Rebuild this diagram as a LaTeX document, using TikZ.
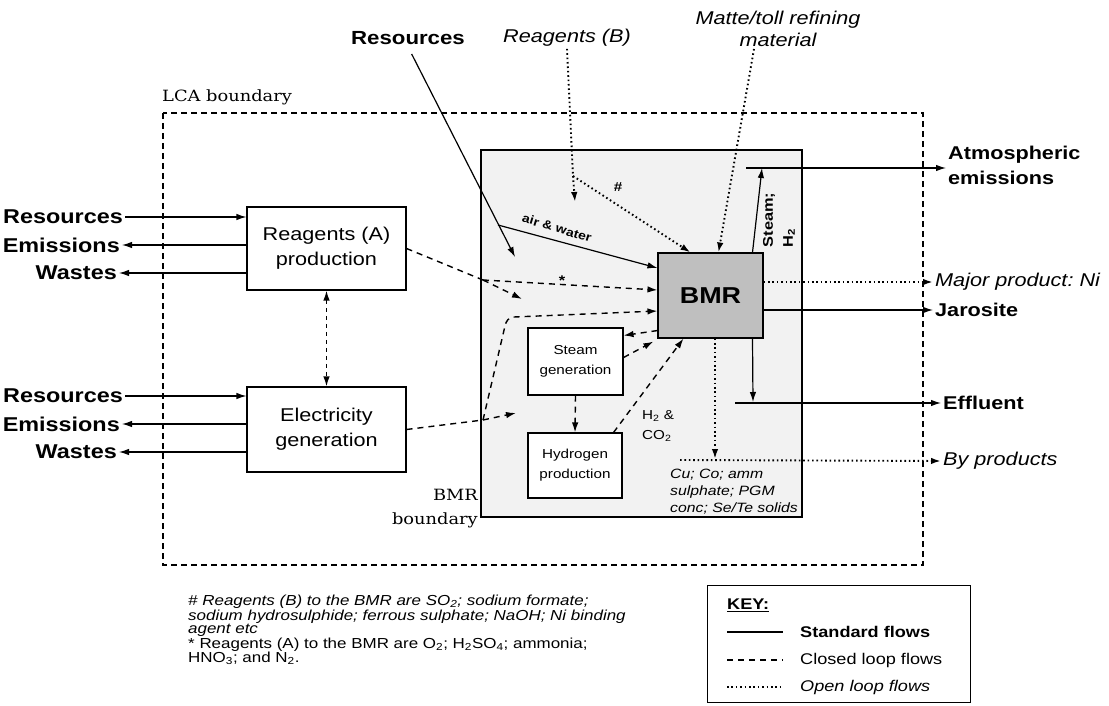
\documentclass[tikz,border=0pt]{standalone}
\usepackage{fontspec}
\setmainfont{Liberation Sans}[FakeStretch=1.17]
\newfontfamily\bndfont{DejaVu Serif}[FakeStretch=1.15]
\usetikzlibrary{positioning,calc,arrows.meta}
\newcommand{\low}[1]{\textsubscript{#1}}

\begin{document}
\begin{tikzpicture}[x=1pt, y=-1pt,
  every node/.style={align=center, inner sep=2pt},
  >={Latex[length=10pt,width=6.5pt]},
  std/.style={line width=1.2pt},
  closedflow/.style={line width=1.4pt, dash pattern=on 6pt off 5pt},
  openflow/.style={line width=1.9pt, dash pattern=on 1.6pt off 2.8pt},
  box/.style={draw, line width=1.1pt, fill=white, font=\fontsize{18.5}{25}\selectfont},
  lbl/.style={font=\bfseries\fontsize{20}{22}\selectfont},
  rlbl/.style={font=\bfseries\fontsize{18.5}{25}\selectfont},
  itlbl/.style={font=\itshape\fontsize{18.5}{22}\selectfont},
  bnd/.style={font=\bndfont\fontsize{15.5}{24}\selectfont, inner sep=0pt}]
\fill[white] (0,0) rectangle (1109,706);
\useasboundingbox (0,0) rectangle (1109,706);

% LCA boundary
\draw[line width=1.3pt, dash pattern=on 6pt off 4pt] (163,113) rectangle (923,565);
\node[bnd, anchor=west] (lcalbl) at (162,97) {LCA boundary};

% BMR boundary
\node[draw, line width=1.1pt, fill=black!5, minimum width=321pt, minimum height=367pt, inner sep=0pt] (bmrbound) at (641.5,333.5) {};
\node[bnd, anchor=east, align=right] (bmrlbl) at (478,509) {BMR\\boundary};

% process boxes
\node[box, minimum width=159pt, minimum height=83pt] (reaA) at (326.5,248.5) {Reagents (A)\\production};
\node[box, minimum width=159pt, minimum height=85pt] (elec) at (326.5,429.5) {Electricity\\generation};
\node[box, fill=black!25, minimum width=105pt, minimum height=85pt, font=\bfseries\fontsize{23}{26}\selectfont] (bmr) at (710.5,295.5) {BMR};
\node[box, minimum width=95pt, minimum height=67pt, font=\fontsize{13}{20}\selectfont] (steam) at (575.5,361.5) {Steam\\generation};
\node[box, minimum width=94pt, minimum height=65pt, font=\fontsize{13}{20}\selectfont] (hydro) at (575,465.5) {Hydrogen\\production};

% inputs and outputs of the background systems
\foreach \bx/\dy/\tg in {reaA/0/A, elec/179/E}{
  \node[lbl, anchor=east] (res\tg) at (125,{217+\dy}) {Resources};
  \node[lbl, anchor=east] (em\tg) at (122,{245+\dy}) {Emissions};
  \node[lbl, anchor=east] (was\tg) at (119,{273+\dy}) {Wastes};
  \draw[std,->] (res\tg.east) -- (res\tg.east -| \bx.west);
  \draw[std,->] (em\tg.east -| \bx.west) -- (em\tg.east);
  \draw[std,->] (was\tg.east -| \bx.west) -- (was\tg.east);
}
\draw[closedflow,<->, dash pattern=on 4pt off 4pt] (reaA.south) -- (elec.north);

% top inputs
\node[lbl, font=\bfseries\fontsize{19}{22}\selectfont] (resT) at (408,38) {Resources};
\node[itlbl] (reaB) at (567,38) {Reagents (B)};
\node[itlbl] (matte) at (778,29) {Matte/toll refining\\material};

\coordinate (resTip) at (515,257);
\coordinate (awSplit) at (498,225);
\draw[std,->, shorten <=8pt] (resT.south) -- (resTip);
\draw[std,->] (awSplit) -- ([yshift=27.5pt]bmr.west);
\node[font=\bfseries\fontsize{12}{14}\selectfont, rotate=-17, inner sep=0pt] (awlbl) at (557,228) {air \& water};

\coordinate (rbSplit) at (573,176);
\coordinate (rbTip) at (575,202);
\draw[openflow] (reaB.south) -- (rbSplit);
\draw[openflow,->] (rbSplit) -- (rbTip);
\draw[openflow,->] (rbSplit) -- ([xshift=-20pt]bmr.north);
\node[font=\bfseries\fontsize{13}{14}\selectfont] (hashlbl) at (618,187) {\#};

\draw[openflow,->] ([xshift=-24pt]matte.south) -- ([xshift=8pt]bmr.north);

% outputs of the BMR
\coordinate (stTip) at (762,168);
\draw[std,->] ([xshift=42pt]bmr.north) -- (stTip);
\node[font=\bfseries\fontsize{14}{20}\selectfont, rotate=90, align=left] (stlbl) at (779,220) {Steam;\\H\low{2}};

\node[rlbl, anchor=west, align=left] (atm) at (946,165) {Atmospheric\\emissions};
\coordinate (atmStart) at (746,168);
\draw[std,->] (atmStart) -- (atm.west |- atmStart);

\node[itlbl, anchor=west] (major) at (933,282) {Major product:~Ni};
\draw[openflow,->] (bmr.east |- major) -- (major.west);

\node[rlbl, anchor=west] (jaro) at (933,310) {Jarosite};
\draw[std,->] (bmr.east |- jaro) -- (jaro.west);

\node[rlbl, anchor=west] (eff) at (941,403) {Effluent};
\coordinate (effTip) at (753,402);
\coordinate (effStart) at (735,403);
\draw[std,->] ([xshift=42pt]bmr.south) -- (effTip);
\draw[std,->] (effStart) -- (eff.west);

\node[itlbl, anchor=west] (byp) at (941,461) {By products};
\coordinate (byTip) at (715,459);
\coordinate (byStart) at (680,460);
\draw[openflow,->] ([xshift=4.5pt]bmr.south) -- (byTip);
\draw[openflow,->] (byStart) -- (byp.west);
\node[anchor=north west, align=left, inner sep=0pt, font=\itshape\fontsize{13.5}{17}\selectfont] (bylist) at (670,469) {Cu; Co; amm\\sulphate; PGM\\conc; Se/Te solids};

% closed loop flows
\coordinate (raSplit) at (483,280);
\coordinate (raTip) at (522,299);
\draw[closedflow] (reaA.east) -- (raSplit);
\draw[closedflow,->] (raSplit) -- (raTip);
\draw[closedflow,->] (raSplit) -- ([yshift=5.5pt]bmr.west);
\node[font=\bfseries\fontsize{14}{14}\selectfont] (starlbl) at (562,281) {*};

\coordinate (elSplit) at (483,420);
\coordinate (elTip) at (516,413);
\draw[closedflow] (elec.east) -- (elSplit);
\draw[closedflow,->] (elSplit) -- (elTip);
\draw[closedflow,->] (elSplit) -- (505,326) to[out=80,in=180] (514,317) -- ([yshift=-15.5pt]bmr.west);

\draw[closedflow,->] ([yshift=8pt]bmr.south west) -- ([yshift=26pt]steam.east);
\draw[closedflow,->] ([yshift=4pt]steam.east) -- ([xshift=-4pt,yshift=-3pt]bmr.south west);
\draw[closedflow,->] (steam.south) -- (hydro.north);
\draw[closedflow,->] ([xshift=-9pt]hydro.north east) -- ([xshift=-27pt]bmr.south);
\node[anchor=north west, align=left, inner sep=0pt, font=\fontsize{13}{20}\selectfont] (h2lbl) at (642,410) {H\low{2} \&\\CO\low{2}};

% notes
\node[anchor=north west, align=left, inner sep=0pt, font=\fontsize{14.5}{13.5}\selectfont] (notes) at (188,595)
  {\textit{\# Reagents (B) to the BMR are SO\low{2}; sodium formate;}\\
   \textit{sodium hydrosulphide; ferrous sulphate; NaOH; Ni binding}\\
   \textit{agent etc}\\
   * Reagents (A) to the BMR are O\low{2}; H\low{2}SO\low{4}; ammonia;\\
   HNO\low{3}; and N\low{2}.};

% key
\draw[line width=1pt] (707,585) rectangle (970,702);
\node[anchor=west, font=\bfseries\fontsize{15.5}{17}\selectfont] (keyhd) at (725,605) {\underline{KEY:}};
\draw[std] (727,632) -- (783,632);
\draw[closedflow] (727,660) -- (783,660);
\draw[openflow] (727,687) -- (783,687);
\node[anchor=west, font=\bfseries\fontsize{15.5}{17}\selectfont] (kstd) at (798,632) {Standard flows};
\node[anchor=west, font=\fontsize{15.5}{17}\selectfont] (kcl) at (798,660) {Closed loop flows};
\node[anchor=west, font=\itshape\fontsize{15.5}{17}\selectfont] (kop) at (798,687) {Open loop flows};
\end{tikzpicture}
\end{document}
